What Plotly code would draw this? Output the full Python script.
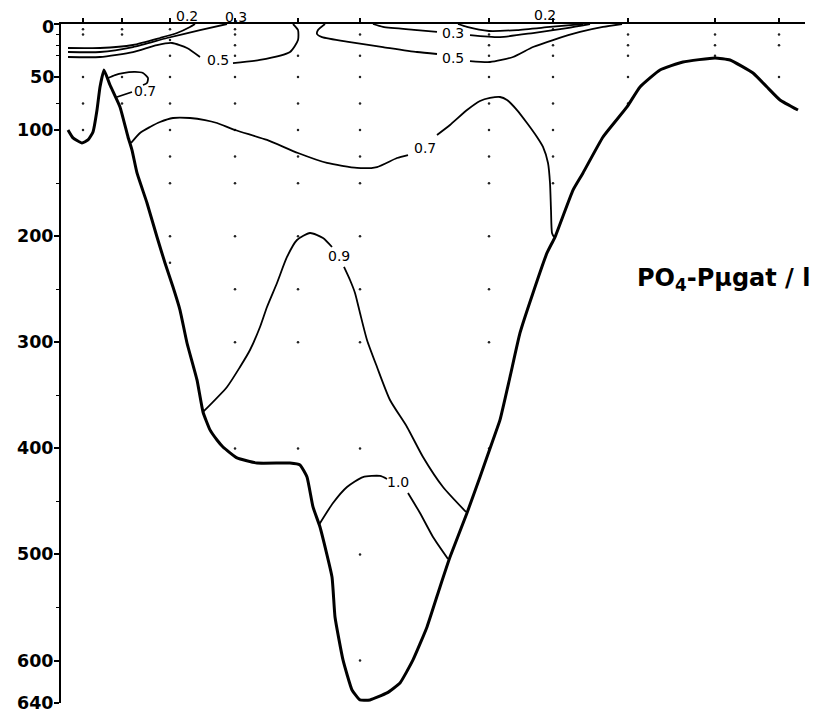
import plotly.graph_objects as go

# ---- stations along the section (km) and sampling depths (m) ----
station_km = [5.5, 15.25, 27.25, 43.5, 59.25, 74.75, 107, 123, 141.75, 163.5, 179.5]
station_depths = [
    [5, 10, 50, 75, 100],
    [5, 10, 50, 75],
    [5, 15, 30, 50, 75, 100, 125, 150, 200, 225],
    [5, 10, 20, 30, 50, 75, 100, 125, 150, 200, 250, 300, 400],
    [30, 50, 75, 100, 125, 150, 200, 250, 300, 400],
    [10, 30, 50, 75, 100, 125, 150, 200, 250, 300, 400, 500, 600],
    [10, 20, 30, 50, 75, 100, 125, 150, 200, 250, 300, 400],
    [5, 20, 30, 50, 75, 100, 125, 150],
    [10, 20, 30, 50, 75],
    [10, 20, 30],
    [10, 20, 50],
]

# ---- bottom profile ----
bottom_km = [1.75, 3, 5.25, 6.75, 8, 9, 9.75, 10.75, 12.25, 14.75, 16.75, 17.75, 19, 21.5, 24, 26, 28,
             29.75, 31.5, 34, 35.5, 37.25, 39, 40.5, 44, 49, 57.25, 59.75, 61.5, 63, 64.75, 67.75,
             68.5, 70.5, 72.75, 74.75, 77.25, 81.5, 84.75, 88, 91.5, 94.75, 97.25, 101.5, 104.75,
             108, 109.75, 112.25, 114.75, 118, 121.5, 123.5, 128, 130.5, 135.5, 141.5, 144.75,
             149.75, 155.5, 163.5, 167.25, 173, 176.5, 179.75, 184.25]
bottom_m = [99.9, 107.4, 112.2, 109.3, 101.8, 81.1, 59.4, 43.4, 57.5, 78.2, 106.5, 118.8, 140.4, 168.7,
            200.8, 225.3, 247.9, 269.6, 300.7, 335.5, 365.7, 382.6, 392.1, 398.7, 409, 413.8, 413.8,
            415.6, 427, 455.2, 474.1, 521.2, 558.9, 599.4, 627.7, 637.1, 637.1, 630.5, 621.1, 599.4,
            568.3, 530.6, 502.4, 460.9, 427, 392.1, 373.2, 332.7, 291.2, 253.5, 215.8, 200.8, 156.5,
            140.4, 106.5, 78.2, 59.4, 43.4, 35.8, 32, 33.9, 46.2, 59.4, 71.6, 81.1]

# ---- isolines of PO4-P (µg-at/l); None = break at a label ----
c02_km = [1.75, 9.75, 18, 24.75, 29, 32.25, 33.5, None, 99.25, 101.5, 107, 114, 122.25, 130.5]
c02_m = [22.6, 22.6, 19.8, 13.2, 8.5, 2.8, 0, None, 0, 2.8, 6.6, 5.7, 2.8, 0]

c03_km = [1.75, 9.75, 18, 26.5, 34.75, 41.5, None, 78, 80.5, 89, 94, None,
          102.25, 109.75, 118, 126.5, 132.25]
c03_m = [26.4, 26.4, 21.7, 13.2, 5.7, 0, None, 0, 2.8, 5.7, 7.5, None, 10.4, 12.3, 8.5, 3.8, 0]

c05_km = [1.75, 9.75, 18, 24, 27.75, 31.5, 34.75, None, 43, 49.75, 57.25, 59.25, 59.25, 58, None,
          66, 64.25, 64, 65.25, 72.25, 80.5, 89, 94, None,
          102.25, 107.25, 113, 118, 123, 129.75, 135.5, 140.25]
c05_m = [31.1, 31.1, 26.4, 19.8, 17.9, 22.6, 31.1, None, 36.8, 33.9, 26.4, 15.1, 5.7, 0, None,
         0, 5.7, 9.4, 12.3, 17, 21.7, 26.4, 28.3, None,
         34.9, 35.8, 31.1, 21.7, 15.1, 7.5, 2.8, 0]

c07_km = [11.75, 13.5, 15.5, 18.5, 20.5, 21.75, 21.5, 20.5, None, 17.75, 14, None,
          17.5, 19.75, 22.25, 24.75, 28, 32.25, 36, 39, 43.5, 51.5, 59.25, 66.5, 74, 79, 84, 86.75,
          None, 94, 97.25, 101.5, 104.75, 107.25, 109.75, 111.5, 114, 116.5, 119, 120.5, 121.75,
          122.25, 122.5, 122.75, 123.25]
c07_m = [50.9, 48.1, 46.2, 45.2, 46.2, 50.9, 55.6, 57.5, None, 64.1, 68.8, None,
         112.2, 102.7, 97.1, 92.4, 88.6, 88.6, 90.5, 93.3, 99.9, 109.3, 121.6, 131, 135.7, 134.8,
         126.3, 123.5, None, 104.6, 95.2, 81.1, 72.6, 69.7, 68.8, 71.6, 81.1, 93.3, 106.5, 115.9,
         131, 149.9, 175.3, 197, 200.8]

c09_km = [35.5, 41.5, 44.75, 47.25, 49.75, 51.5, 54, 56.5, 59, 62.25, 65.5, 67.75, None,
          70.75, 72.25, 73.5, 74.75, 76.5, 79, 82.25, 86.5, 90.5, 95.5, 101.25]
c09_m = [365.7, 342.1, 323.3, 307.3, 285.6, 266.7, 244.1, 219.6, 203.6, 197, 201.7, 210.2, None,
         229, 241.3, 253.5, 272.4, 297.8, 323.3, 354.4, 379.8, 408.1, 436.4, 459.9]

c10_km = [64.5, 68, 71.5, 75.5, 79.75, 81.5, None, 86.75, 89.75, 93, 96.75]
c10_m = [472, 451.5, 436.4, 427, 426, 428.8, None, 442, 460.9, 483.5, 504.2]

label_text = ["0.2", "0.3", "0.5", "0.7", "0.7", "0.9", "1.0", "0.2", "0.3", "0.5"]
label_km = [31.5, 43.75, 39.25, 21, 91, 69.5, 84.25, 121, 98, 98]
label_m = [-7.5, -6.6, 33.9, 63.1, 116.9, 218.7, 431.7, -8.5, 8.5, 32]

depth_max = 640
depth_ticks = [0, 50, 100, 200, 300, 400, 500, 600, 640]
depth_minor = [10, 20, 30, 75, 150, 250, 350, 450, 550]

fig = go.Figure()

# sampling points
dot_x, dot_y = [], []
for xk, ds in zip(station_km, station_depths):
    for d in ds:
        dot_x.append(xk)
        dot_y.append(d)
fig.add_trace(go.Scatter(x=dot_x, y=dot_y, mode="markers",
                         marker=dict(size=2.5, color="#222"), hoverinfo="skip"))

for cx, cy in [(c02_km, c02_m), (c03_km, c03_m), (c05_km, c05_m), (c07_km, c07_m),
               (c09_km, c09_m), (c10_km, c10_m)]:
    fig.add_trace(go.Scatter(x=cx, y=cy, mode="lines", connectgaps=False,
                             line=dict(color="black", width=1.8, shape="spline", smoothing=0.6),
                             hoverinfo="skip"))

fig.add_trace(go.Scatter(x=bottom_km, y=bottom_m, mode="lines",
                         line=dict(color="black", width=3, shape="spline", smoothing=0.4),
                         hoverinfo="skip"))

# isoline labels; the ones written above the sea surface use the paper frame on y
for t, xk, d in zip(label_text, label_km, label_m):
    if d < 0:
        fig.add_annotation(x=xk, xref="x", y=1 - d / depth_max, yref="paper", text=t,
                           showarrow=False, xanchor="center", yanchor="middle",
                           font=dict(family="DejaVu Sans", size=14, color="black"))
    else:
        fig.add_annotation(x=xk, y=d, text=t, showarrow=False, xanchor="center", yanchor="middle",
                           font=dict(family="DejaVu Sans", size=14, color="black"))

# depth labels, right-aligned against the depth axis
for v in depth_ticks:
    fig.add_annotation(xref="paper", yref="paper", x=-0.0067, y=1 - v / depth_max,
                       text=str(v), showarrow=False, xanchor="right", yanchor="middle",
                       yshift=-3 if v == 0 else 0,
                       font=dict(family="DejaVu Sans", size=17.5, color="black", weight="bold"))

fig.add_annotation(xref="paper", yref="paper", x=0.7715, y=0.623, xanchor="left", yanchor="middle",
                   text="PO<sub>4</sub>-Pµgat / l", showarrow=False,
                   font=dict(family="DejaVu Sans", size=24, color="black", weight="bold"))

# the page keeps the browser's 8 px body margin, so the figure is 8 px smaller
fig.update_layout(
    width=814, height=707,
    margin=dict(l=53, r=17, t=16, b=12),
    paper_bgcolor="white", plot_bgcolor="white",
    showlegend=False,
    xaxis=dict(range=[0, 186], side="top", showline=True, linecolor="black", linewidth=2,
               ticks="outside", ticklen=4, tickwidth=1.5, tickcolor="black",
               tickmode="array", tickvals=station_km, showticklabels=False,
               showgrid=False, zeroline=False, automargin=False),
    yaxis=dict(range=[depth_max, 0], showline=True, linecolor="black", linewidth=2,
               ticks="outside", ticklen=5, tickwidth=1.5, tickcolor="black",
               tickmode="array", tickvals=depth_ticks, showticklabels=False,
               minor=dict(tickmode="array", tickvals=depth_minor, ticks="outside", ticklen=3,
                          tickwidth=1, tickcolor="black", showgrid=False),
               showgrid=False, zeroline=False, automargin=False),
)

fig.write_html("out.html", config={"displayModeBar": False})
